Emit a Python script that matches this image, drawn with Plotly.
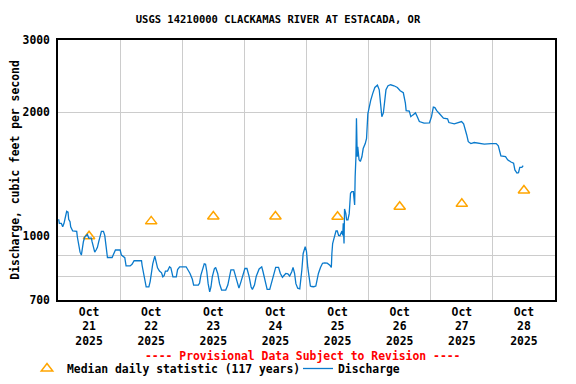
import pandas as pd
import plotly.graph_objects as go

# ---- data ----
title_text = "USGS 14210000 CLACKAMAS RIVER AT ESTACADA, OR"
start = "2025-10-21 00:00"

# discharge: hours after Oct 21 00:00, cubic feet per second
q_hours = [0.26, 0.52, 1.29, 1.81, 2.32, 2.84, 3.35, 3.87, 4.13, 4.65, 4.9, 5.68, 7.23, 7.48, 8.0, 8.52,
           9.03, 9.29, 9.81, 10.32, 11.35, 11.87, 12.9, 13.16, 13.68, 14.19, 14.71, 15.23, 15.74, 16.26,
           16.77, 17.55, 18.06, 18.58, 19.1, 20.9, 21.42, 22.19, 24.0, 24.5, 25.8, 26.3, 27.87, 28.6, 29.4,
           32.26, 32.5, 33.0, 33.5, 34.06, 35.1, 35.6, 36.1, 36.6, 37.4, 37.9, 38.45, 39.2, 40.0, 40.5,
           41.0, 41.5, 42.3, 43.1, 43.6, 44.4, 45.7, 46.2, 47.0, 49.5, 50.3, 51.0, 51.9, 52.4, 54.2, 54.7,
           55.2, 56.0, 56.5, 57.0, 57.5, 58.0, 58.6, 59.1, 59.6, 60.4, 60.9, 61.7, 62.4, 63.2, 64.8, 65.6,
           66.3, 66.8, 67.9, 68.6, 69.4, 69.9, 70.7, 71.5, 72.2, 73.0, 73.8, 74.6, 75.1, 75.9, 76.6, 77.7,
           78.7, 79.2, 80.0, 80.8, 81.8, 82.6, 83.4, 84.1, 85.2, 85.9, 86.7, 87.2, 88.0, 88.8, 89.5, 90.3,
           90.8, 91.4, 91.9, 92.6, 93.4, 94.2, 94.7, 95.5, 96.0, 96.5, 97.0, 97.5, 98.0, 98.8, 99.6, 100.1,
           100.6, 101.4, 102.2, 103.0, 104.0, 105.0, 105.6, 105.8, 106.1, 106.6, 107.4, 107.9, 108.4, 108.9,
           109.7, 110.0, 110.2, 110.5, 110.7, 111.2, 111.5, 112.0, 112.5, 113.0, 113.5, 114.1, 114.6, 114.8,
           115.1, 115.3, 115.6, 115.8, 116.3, 116.8, 117.4, 117.9, 118.7, 119.2, 119.7, 120.3, 120.8, 121.6,
           122.4, 123.4, 124.1, 124.6, 125.1, 125.7, 126.2, 126.7, 127.5, 128.5, 129.8, 131.1, 132.2, 133.4,
           134.2, 134.5, 135.7, 136.3, 137.0, 138.1, 138.8, 139.6, 141.4, 143.5, 144.3, 145.0, 145.6, 146.3,
           147.4, 148.9, 150.5, 151.0, 153.1, 154.4, 155.9, 156.7, 157.2, 157.9, 158.5, 159.5, 160.8, 162.9,
           164.7, 167.3, 169.3, 170.1, 171.1, 172.9, 173.7, 175.0, 176.0, 176.5, 177.3, 177.9, 178.4, 179.2,
           179.7]
q_values = [1100, 1075, 1075, 1055, 1075, 1115, 1150, 1145, 1100, 1085, 1055, 1030, 1028, 996, 940, 915,
            900, 926, 970, 996, 1010, 990, 990, 970, 935, 915, 926, 940, 970, 1000,
            1028, 1028, 1005, 945, 888, 888, 903, 926, 926, 900, 887, 847, 847, 855, 872,
            872, 849, 815, 787, 753, 753, 776, 815, 857, 895, 872, 838, 823, 815, 797,
            802, 823, 823, 843, 838, 797, 797, 830, 843, 843, 829, 812, 786, 761, 761, 770,
            805, 840, 857, 855, 820, 767, 733, 753, 797, 833, 840, 812, 767, 740, 740, 761,
            805, 829, 829, 800, 767, 748, 776, 812, 835, 835, 800, 753, 743, 761, 800, 833,
            843, 820, 776, 743, 743, 776, 820, 840, 840, 812, 795, 800, 812, 810, 800, 820,
            840, 812, 767, 748, 745, 828, 907, 944, 918, 840, 783, 757, 755, 754, 757, 783,
            812, 840, 860, 862, 860, 851, 840, 907, 960, 987, 1030, 1030, 1005, 1003,
            1030, 1005, 1075, 960, 1165, 1135, 1096, 1096, 1135, 1272, 1284, 1284, 1192, 1397,
            1560, 1937, 1560, 1650, 1534, 1520, 1560, 1634, 1680, 1730, 1985, 2085, 2140, 2225,
            2300, 2330, 2270, 2106, 1953, 1995, 2106, 2270, 2322, 2335, 2322, 2300, 2258, 2233,
            2106, 2020, 2015, 1953, 1970, 1995, 1953, 1900, 1883, 1887, 1953, 2060, 2055, 2020,
            1985, 1937, 1930, 1890, 1876, 1890, 1900, 1876, 1814, 1763, 1698, 1680, 1690, 1685,
            1675, 1680, 1680, 1660, 1568, 1562, 1534, 1515, 1505, 1450, 1425, 1428, 1470, 1470,
            1485]

median_dates = ["2025-10-21 12:00", "2025-10-22 12:00", "2025-10-23 12:00", "2025-10-24 12:00",
                "2025-10-25 12:00", "2025-10-26 12:00", "2025-10-27 12:00", "2025-10-28 12:00"]
median_values = [1000, 1087, 1117, 1117, 1115, 1180, 1199, 1292]

x_tick_vals = median_dates
x_tick_text = ["Oct<br>21<br>2025", "Oct<br>22<br>2025", "Oct<br>23<br>2025", "Oct<br>24<br>2025",
               "Oct<br>25<br>2025", "Oct<br>26<br>2025", "Oct<br>27<br>2025", "Oct<br>28<br>2025"]
y_tick_vals = [700, 800, 900, 1000, 2000, 3000]
y_tick_text = ["700", "", "", "1000", "2000", "3000"]

q_times = pd.Timestamp(start) + pd.to_timedelta(q_hours, unit="h")

FONT = "DejaVu Sans Mono"
OFF = 8                      # page body margin of the html page
W, H = 576 - 2 * OFF, 384 - 2 * OFF
# plot box in page pixels: x 58..555, y 40..300
L, R, T, B = 58 - OFF, W - (555 - OFF), 40 - OFF, H - (300 - OFF)
PW, PH = W - L - R, H - T - B


def px_x(page_px):
    return (page_px - OFF - L) / PW


def px_y(page_py):
    return (H - B - (page_py - OFF)) / PH


fig = go.Figure()
fig.add_trace(go.Scatter(
    x=median_dates, y=median_values, mode="markers",
    name="Median daily statistic (117 years)",
    marker=dict(symbol="triangle-up-open", size=10, color="#FFA500", line=dict(width=1.5, color="#FFA500")),
    legend="legend", showlegend=True,
))
fig.add_trace(go.Scatter(
    x=q_times, y=q_values, mode="lines", name="Discharge",
    line=dict(color="#0a7acc", width=1.3),
    legend="legend2", showlegend=True,
))

legend_font = dict(family=FONT, size=11.4, color="black", weight="bold")
fig.update_layout(
    width=W, height=H,
    showlegend=True,
    margin=dict(l=L, r=R, t=T, b=B, autoexpand=False),
    paper_bgcolor="white", plot_bgcolor="white",
    title=dict(text=title_text, x=px_x(278), xref="paper", xanchor="center",
               y=1 - (19 - OFF) / H, yref="container", yanchor="middle",
               font=dict(family=FONT, size=10.5, color="black", weight="bold")),
    xaxis=dict(
        range=["2025-10-21 00:00", "2025-10-29 00:00"], automargin=False,
        tickvals=x_tick_vals, ticktext=x_tick_text, ticks="", showgrid=False,
        tickfont=dict(family=FONT, size=11.4, color="black", weight="bold"),
        minor=dict(dtick=86400000, tick0="2025-10-21", showgrid=True, gridcolor="#cccccc", gridwidth=1.3),
        showline=True, linecolor="black", linewidth=1.8, mirror=True, zeroline=False,
    ),
    yaxis=dict(
        type="log", range=[2.8451, 3.4771], automargin=False,
        tickvals=y_tick_vals, ticktext=y_tick_text, ticks="", ticklabelstandoff=4,
        showgrid=True, gridcolor="#cccccc", gridwidth=1.3,
        tickfont=dict(family=FONT, size=11.4, color="black", weight="bold"),
        showline=True, linecolor="black", linewidth=1.5, mirror=True, zeroline=False,
        title=dict(text="Discharge, cubic feet per second", standoff=6,
                   font=dict(family=FONT, size=11.4, color="black", weight="bold")),
    ),
    legend=dict(x=px_x(27), xanchor="left", y=px_y(368.5), yanchor="middle", orientation="h",
                font=legend_font, bgcolor="rgba(0,0,0,0)", itemwidth=30, visible=True),
    legend2=dict(x=px_x(298), xanchor="left", y=px_y(368.5), yanchor="middle", orientation="h",
                 font=legend_font, bgcolor="rgba(0,0,0,0)", itemwidth=30, visible=True),
    annotations=[dict(text="---- Provisional Data Subject to Revision ----", x=px_x(302), y=px_y(356),
                      xref="paper", yref="paper", xanchor="center", yanchor="middle", showarrow=False,
                      font=dict(family=FONT, size=11.4, color="red", weight="bold"))],
)

fig.write_html("out.html")
